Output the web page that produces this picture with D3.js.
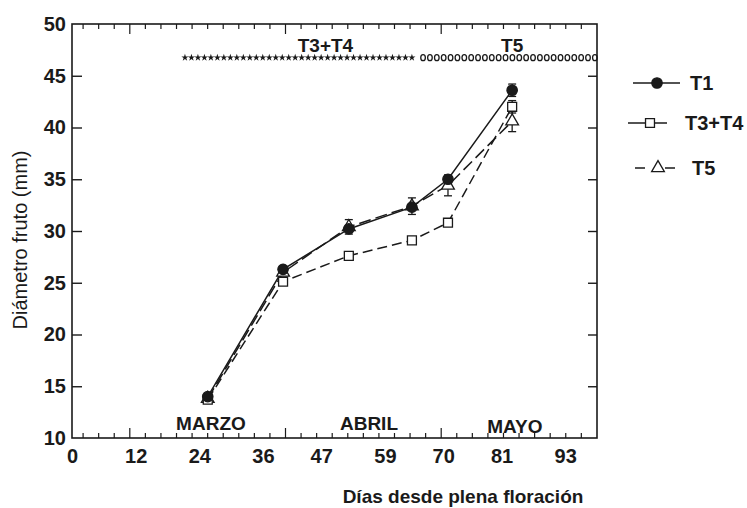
<!DOCTYPE html>
<html>
<head>
<meta charset="utf-8">
<script src="https://cdn.jsdelivr.net/npm/d3@7"></script>
<style>
  html, body { margin: 0; padding: 0; background: #fff; }
  svg { display: block; font-family: "Liberation Sans", Arial, sans-serif; }
</style>
</head>
<body>
<div id="chart"></div>
<script>
// días desde plena floración (x) y diámetro del fruto en mm (y)
const dias = [25.6, 39.8, 52.2, 64.1, 70.9, 83.0];
const t1 = [14.0, 26.3, 30.2, 32.3, 35.0, 43.6];
const t1Err = [0, 0, 0, 0, 0.4, 0.6];
const t34 = [13.7, 25.1, 27.6, 29.1, 30.8, 42.0];
const t34Err = [0, 0, 0, 0, 0, 0.6];
const t5 = [13.8, 26.0, 30.4, 32.4, 34.4, 40.6];
const t5Err = [0, 0, 0.7, 0.8, 1.0, 1.0];

const xTicks = [0, 12, 24, 36, 47, 59, 70, 81, 93];
const yTicks = [10, 15, 20, 25, 30, 35, 40, 45, 50];
const meses = [{ name: "MARZO", dia: 26.2 }, { name: "ABRIL", dia: 56 }, { name: "MAYO", dia: 83.5 }];
const periodos = [
  { name: "T3+T4", desde: 21.3, hasta: 64.1, n: 36, mark: "star", labelDia: 47.8 },
  { name: "T5", desde: 66.2, hasta: 98.6, n: 26, mark: "o", labelDia: 83.0 }
];
const nivelPeriodo = 46.75;

const W = 747, H = 508;
const m = { top: 24, right: 150, bottom: 70, left: 72 };

const svg = d3.select("#chart").append("svg").attr("width", W).attr("height", H);
svg.append("rect").attr("width", W).attr("height", H).attr("fill", "#fff");

const x = d3.scaleLinear().domain([0, 99]).range([m.left, W - m.right]);
const y = d3.scaleLinear().domain([10, 50]).range([H - m.bottom, m.top]);
const ink = "#1a1a1a";

// marco
svg.append("rect")
  .attr("x", x(0)).attr("y", y(50))
  .attr("width", x(99) - x(0)).attr("height", y(10) - y(50))
  .attr("fill", "none").attr("stroke", ink).attr("stroke-width", 1.6);

// ticks x (menores cada ~2.94 días, mayores cada 10 menores)
const step = 2.936;
const xMinor = d3.range(10.9 - step * 3, 99, step).filter(d => d > 0.5 && d < 98.5);
const xMajor = [10.9, 10.9 + step * 10, 10.9 + step * 20];
[y(10), y(50)].forEach((yy, i) => {
  const dir = i === 0 ? -1 : 1;
  svg.append("g").selectAll("line").data(xMinor).enter().append("line")
    .attr("x1", d => x(d)).attr("x2", d => x(d))
    .attr("y1", yy).attr("y2", d => yy + dir * (xMajor.some(v => Math.abs(v - d) < 0.5) ? 10 : 5))
    .attr("stroke", ink).attr("stroke-width", 1.2);
});

// etiquetas x
svg.append("g")
  .attr("transform", `translate(0,${y(10)})`)
  .call(d3.axisBottom(x).tickValues(xTicks).tickSize(0).tickPadding(11).tickFormat(d3.format("d")))
  .call(g => g.select(".domain").remove())
  .selectAll("text")
  .attr("font-size", 20).attr("font-weight", "bold").attr("fill", ink)
  .attr("font-family", "Liberation Sans, Arial, sans-serif");

// eje y (izquierda y derecha)
svg.append("g")
  .attr("transform", `translate(${x(0)},0)`)
  .call(d3.axisRight(y).tickValues(yTicks.slice(1, -1)).tickSize(10).tickFormat(""))
  .call(g => g.select(".domain").remove())
  .selectAll("line").attr("stroke", ink).attr("stroke-width", 1.4);
svg.append("g")
  .attr("transform", `translate(${x(99)},0)`)
  .call(d3.axisLeft(y).tickValues(yTicks.slice(1, -1)).tickSize(9).tickFormat(""))
  .call(g => g.select(".domain").remove())
  .selectAll("line").attr("stroke", ink).attr("stroke-width", 1.4);
svg.append("g")
  .attr("transform", `translate(${x(0)},0)`)
  .call(d3.axisLeft(y).tickValues(yTicks).tickSize(0).tickPadding(6))
  .call(g => g.select(".domain").remove())
  .selectAll("text")
  .attr("font-size", 20).attr("font-weight", "bold").attr("fill", ink)
  .attr("font-family", "Liberation Sans, Arial, sans-serif");

// títulos de ejes
svg.append("text")
  .attr("x", 463).attr("y", 503)
  .attr("text-anchor", "middle").attr("font-size", 19).attr("font-weight", "bold").attr("fill", ink)
  .text("Días desde plena floración");
svg.append("text")
  .attr("transform", "translate(27,240) rotate(-90)")
  .attr("text-anchor", "middle").attr("font-size", 20).attr("fill", ink)
  .text("Diámetro fruto (mm)");

// meses
svg.append("g").selectAll("text").data(meses).enter().append("text")
  .attr("x", d => x(d.dia)).attr("y", (d, i) => y(10) - (i === 2 ? 5 : 8))
  .attr("text-anchor", "middle").attr("font-size", 19).attr("font-weight", "bold").attr("fill", ink)
  .text(d => d.name);

// periodos de tratamiento (fila de asteriscos y de "o")
const star = d3.symbol().type(d3.symbolStar).size(16);
periodos.forEach(p => {
  const pos = d3.range(p.n).map(i => p.desde + (p.hasta - p.desde) * i / (p.n - 1));
  const g = svg.append("g");
  if (p.mark === "star") {
    g.selectAll("path").data(pos).enter().append("path")
      .attr("transform", d => `translate(${x(d)},${y(nivelPeriodo)})`)
      .attr("d", star).attr("fill", ink);
  } else {
    g.selectAll("ellipse").data(pos).enter().append("ellipse")
      .attr("cx", d => x(d)).attr("cy", y(nivelPeriodo))
      .attr("rx", 2.3).attr("ry", 3)
      .attr("fill", "none").attr("stroke", ink).attr("stroke-width", 1.3);
  }
  svg.append("text")
    .attr("x", x(p.labelDia)).attr("y", y(nivelPeriodo) - 6)
    .attr("text-anchor", "middle").attr("font-size", 19).attr("font-weight", "bold").attr("fill", ink)
    .text(p.name);
});

// series
const series = [
  { name: "T1", vals: t1, err: t1Err, dash: null, mark: "circle", legX: 657, legLine: [-24, 23], legDash: null, legText: 33 },
  { name: "T3+T4", vals: t34, err: t34Err, dash: "10,5", mark: "square", legX: 650, legLine: [-22, 17], legDash: null, legText: 35 },
  { name: "T5", vals: t5, err: t5Err, dash: "12,5", mark: "triangle", legX: 658, legLine: [-23, 17], legDash: "10,20", legText: 34 }
];
const line = d3.line().x(d => x(d[0])).y(d => y(d[1]));
const symGen = {
  circle: d3.symbol().type(d3.symbolCircle).size(85),
  square: d3.symbol().type(d3.symbolSquare).size(80),
  triangle: d3.symbol().type(d3.symbolTriangle).size(70)
};

series.slice().reverse().forEach(s => {
  const pts = dias.map((d, i) => [d, s.vals[i], s.err[i]]);
  svg.append("path")
    .datum(pts)
    .attr("fill", "none").attr("stroke", ink).attr("stroke-width", 1.5)
    .attr("stroke-dasharray", s.dash)
    .attr("d", line);
});

series.slice().reverse().forEach(s => {
  const pts = dias.map((d, i) => [d, s.vals[i], s.err[i]]).filter(p => p[2] > 0);
  const g = svg.append("g").attr("stroke", ink).attr("stroke-width", 1.3);
  g.selectAll("line.v").data(pts).enter().append("line")
    .attr("x1", d => x(d[0])).attr("x2", d => x(d[0]))
    .attr("y1", d => y(d[1] - d[2])).attr("y2", d => y(d[1] + d[2]));
  [-1, 1].forEach(sg => {
    g.selectAll(null).data(pts).enter().append("line")
      .attr("x1", d => x(d[0]) - 4).attr("x2", d => x(d[0]) + 4)
      .attr("y1", d => y(d[1] + sg * d[2])).attr("y2", d => y(d[1] + sg * d[2]));
  });
});

series.slice().reverse().forEach(s => {
  svg.append("g").selectAll("path").data(dias.map((d, i) => [d, s.vals[i]])).enter().append("path")
    .attr("transform", d => `translate(${x(d[0])},${y(d[1])})`)
    .attr("d", symGen[s.mark])
    .attr("fill", s.mark === "circle" ? ink : "#fff")
    .attr("stroke", ink).attr("stroke-width", 1.3);
});

// leyenda
const legY = [83, 123, 168];
const legend = svg.append("g").selectAll("g").data(series).enter().append("g")
  .attr("transform", (d, i) => `translate(${d.legX},${legY[i]})`);
legend.append("line")
  .attr("x1", d => d.legLine[0]).attr("x2", d => d.legLine[1]).attr("y1", 0).attr("y2", 0)
  .attr("stroke", ink).attr("stroke-width", 1.5)
  .attr("stroke-dasharray", d => d.legDash);
legend.append("path")
  .attr("d", d => symGen[d.mark]())
  .attr("fill", d => d.mark === "circle" ? ink : "#fff")
  .attr("stroke", ink).attr("stroke-width", 1.3);
legend.append("text")
  .attr("x", d => d.legText).attr("y", 7)
  .attr("font-size", 20).attr("font-weight", "bold").attr("fill", ink)
  .text(d => d.name);
</script>
</body>
</html>
